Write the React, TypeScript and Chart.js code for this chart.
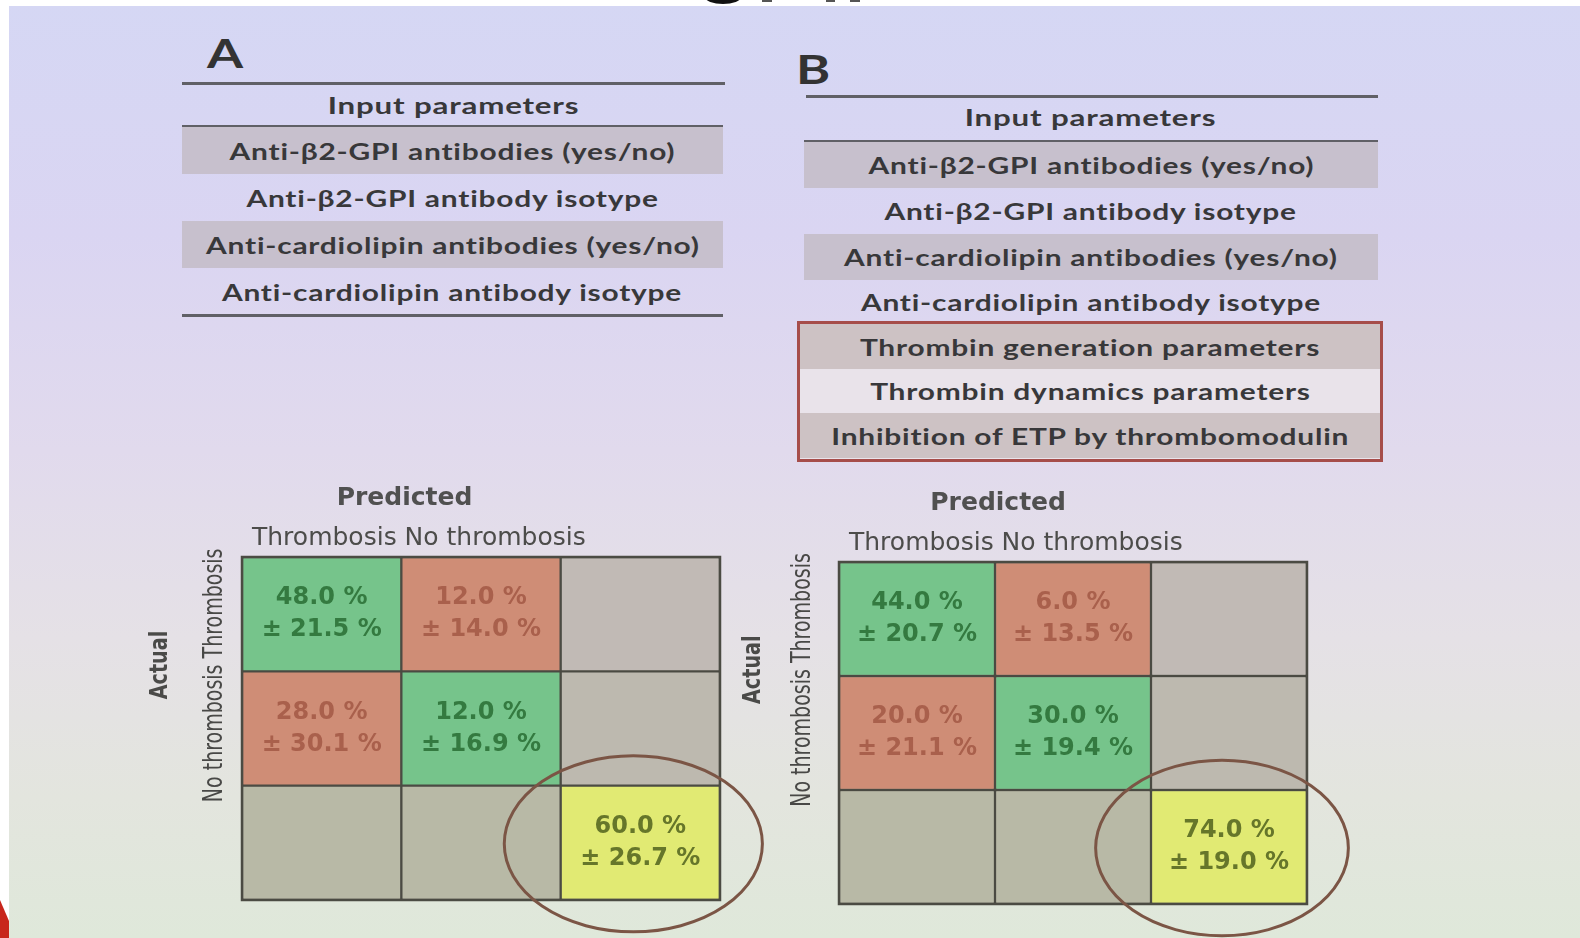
import React, { useEffect, useRef } from 'react';
import { Chart, registerables } from 'chart.js';

Chart.register(...registerables);

// Class names used on both axes of the confusion matrices
const predictedClasses = ['Thrombosis', 'No thrombosis'];
const actualClasses = ['Thrombosis', 'No thrombosis'];

// Model inputs
const baseInputs = [
  'Anti-β2-GPI antibodies (yes/no)',
  'Anti-β2-GPI antibody isotype',
  'Anti-cardiolipin antibodies (yes/no)',
  'Anti-cardiolipin antibody isotype',
];
const thrombinInputs = [
  'Thrombin generation parameters',
  'Thrombin dynamics parameters',
  'Inhibition of ETP by thrombomodulin',
];

// Model A: mean and standard deviation (%) per cell, row = actual, column = predicted
const meanA: (number | null)[][] = [
  [48.0, 12.0, null],
  [28.0, 12.0, null],
  [null, null, 60.0],
];
const sdA: (number | null)[][] = [
  [21.5, 14.0, null],
  [30.1, 16.9, null],
  [null, null, 26.7],
];

// Model B
const meanB: (number | null)[][] = [
  [44.0, 6.0, null],
  [20.0, 30.0, null],
  [null, null, 74.0],
];
const sdB: (number | null)[][] = [
  [20.7, 13.5, null],
  [21.1, 19.4, null],
  [null, null, 19.0],
];

const GRID = '#4b4b43';
const EMPTY_BY_ROW = ['#c1bab5', '#bdb9af', '#b8b9a6'];

function cellKind(r: number, c: number) {
  if (r === 2 && c === 2) return 'total';
  if (r === 2 || c === 2) return 'empty';
  return r === c ? 'hit' : 'miss';
}

function cellColor(r: number, c: number) {
  const k = cellKind(r, c);
  if (k === 'hit') return '#76c48b';
  if (k === 'miss') return '#cf8d76';
  if (k === 'total') return '#e1ea73';
  return EMPTY_BY_ROW[r];
}

function textColor(r: number, c: number) {
  const k = cellKind(r, c);
  if (k === 'hit') return '#347a40';
  if (k === 'miss') return '#a9604c';
  return '#66762a';
}

const matrixDecor = {
  id: 'matrixDecor',
  afterDatasetsDraw(chart: any, _args: any, opts: any) {
    const { ctx, chartArea: a } = chart;
    const w = a.right - a.left;
    const h = a.bottom - a.top;

    ctx.save();
    // outer frame
    ctx.strokeStyle = GRID;
    ctx.lineWidth = 2.5;
    ctx.strokeRect(a.left, a.top, w, h);

    // cell values
    ctx.textAlign = 'center';
    ctx.textBaseline = 'middle';
    ctx.font = 'bold 24px "DejaVu Sans"';
    opts.mean.forEach((row: (number | null)[], r: number) => {
      row.forEach((m, c) => {
        if (m == null) return;
        const bar = chart.getDatasetMeta(r).data[c];
        const cy = (bar.y + bar.base) / 2;
        ctx.fillStyle = textColor(r, c);
        ctx.fillText(`${m.toFixed(1)} %`, bar.x, cy - 16);
        ctx.fillText(`± ${opts.sd[r][c].toFixed(1)} %`, bar.x, cy + 16);
      });
    });

    // highlight ring around the overall accuracy cell
    const tot = chart.getDatasetMeta(2).data[2];
    const bw = tot.width;
    const bh = Math.abs(tot.base - tot.y);
    ctx.beginPath();
    ctx.ellipse(tot.x - 7, (tot.y + tot.base) / 2 + 1, bw * 0.81, bh * 0.77, 0, 0, Math.PI * 2);
    ctx.strokeStyle = '#7b5545';
    ctx.lineWidth = 3;
    ctx.stroke();

    // axis titles
    ctx.fillStyle = '#505050';
    ctx.font = 'bold 25px "DejaVu Sans"';
    ctx.fillText('Predicted', a.left + w * 0.34, a.top - 59);

    ctx.textAlign = 'left';
    ctx.font = '25px "DejaVu Sans"';
    ctx.fillStyle = '#4c4c4a';
    ctx.fillText(predictedClasses.join(' '), a.left + 10, a.top - 19);

    // rotated actual-class labels
    ctx.save();
    ctx.translate(a.left + opts.rowLabelDx, a.top + h * 0.345);
    ctx.rotate(-Math.PI / 2);
    ctx.scale(0.76, 1.05);
    ctx.textAlign = 'center';
    ctx.fillStyle = '#484846';
    ctx.fillText(`${actualClasses[1]} ${actualClasses[0]}`, 0, 0);
    ctx.restore();

    ctx.save();
    ctx.translate(a.left + opts.actualDx, a.top + h * 0.315);
    ctx.rotate(-Math.PI / 2);
    ctx.scale(0.8, 1);
    ctx.textAlign = 'center';
    ctx.font = 'bold 24px "DejaVu Sans"';
    ctx.fillStyle = '#4a4a48';
    ctx.fillText('Actual', 0, 0);
    ctx.restore();

    ctx.restore();
  },
};

type MatrixProps = {
  mean: (number | null)[][];
  sd: (number | null)[][];
  left: number;
  top: number;
  width: number;
  height: number;
  padding: { left: number; top: number; right: number; bottom: number };
  rowLabelDx: number;
  actualDx: number;
};

function ConfusionMatrix(p: MatrixProps) {
  const ref = useRef<HTMLCanvasElement>(null);
  useEffect(() => {
    const chart = new Chart(ref.current as HTMLCanvasElement, {
      type: 'bar',
      data: {
        labels: [...predictedClasses, ''],
        datasets: [0, 1, 2].map((r) => ({
          label: r < 2 ? actualClasses[r] : '',
          data: [0, 1, 2].map(() => [2 - r, 3 - r]),
          backgroundColor: [0, 1, 2].map((c) => cellColor(r, c)),
          borderColor: GRID,
          borderWidth: 1.5,
          borderSkipped: false,
          grouped: false,
          barPercentage: 1,
          categoryPercentage: 1,
        })),
      } as any,
      options: {
        responsive: false,
        animation: false,
        events: [],
        layout: { padding: p.padding },
        scales: {
          x: { display: false },
          y: { display: false, min: 0, max: 3 },
        },
        plugins: {
          legend: { display: false },
          tooltip: { enabled: false },
          matrixDecor: { mean: p.mean, sd: p.sd, rowLabelDx: p.rowLabelDx, actualDx: p.actualDx },
        } as any,
      },
      plugins: [matrixDecor],
    });
    return () => chart.destroy();
  }, []);
  return (
    <canvas
      ref={ref}
      width={p.width}
      height={p.height}
      style={{ position: 'absolute', left: p.left, top: p.top, width: p.width, height: p.height }}
    />
  );
}

const rowText: React.CSSProperties = {
  position: 'absolute',
  display: 'flex',
  alignItems: 'center',
  justifyContent: 'center',
  fontFamily: 'Lato, "Open Sans", sans-serif',
  fontWeight: 700,
  fontSize: 23,
  color: '#38383a',
  whiteSpace: 'nowrap',
};

const stretched: React.CSSProperties = {
  display: 'inline-block',
  transform: 'scaleX(1.3)',
  letterSpacing: '0.6px',
};

function Row(props: { text: string; left: number; top: number; width: number; height: number; bg?: string; stretch?: number }) {
  return (
    <div
      style={{
        ...rowText,
        left: props.left,
        top: props.top,
        width: props.width,
        height: props.height,
        background: props.bg || 'transparent',
      }}
    >
      <span style={{ ...stretched, transform: `scaleX(${props.stretch || 1.3})` }}>{props.text}</span>
    </div>
  );
}

function Rule(props: { left: number; top: number; width: number }) {
  return (
    <div
      style={{
        position: 'absolute',
        left: props.left,
        top: props.top,
        width: props.width,
        height: 3,
        background: '#606066',
      }}
    />
  );
}

function PanelLetter(props: { text: string; left: number; top: number }) {
  return (
    <div style={{ ...rowText, left: props.left, top: props.top, fontSize: 40, color: '#333', justifyContent: 'flex-start' }}>
      <span style={{ display: 'inline-block', transform: 'scaleX(1.3)', transformOrigin: 'left center' }}>{props.text}</span>
    </div>
  );
}

const SHADE = '#c7c0cd';
const SHADE_RED = '#cdc2c4';

export default function App() {
  const aTops = [127, 174, 221, 268];
  const bTops = [142, 188, 234, 279];
  const boxTops = [324, 368, 413];
  return (
    <div
      style={{
        position: 'fixed',
        left: 0,
        top: 0,
        width: 1580,
        height: 938,
        overflow: 'hidden',
        background:
          'linear-gradient(180deg, #d5d7f4 0%, #dad5f2 25%, #e1daed 48%, #e5e1e6 68%, #e3e5de 85%, #dfe8da 100%)',
      }}
    >
      {/* photo frame edges */}
      <div style={{ position: 'absolute', left: 0, top: 0, width: 1580, height: 6, background: '#ffffff' }} />
      <div style={{ position: 'absolute', left: 0, top: 0, width: 9, height: 938, background: '#ffffff' }} />
      <div
        style={{
          position: 'absolute',
          left: 0,
          top: 900,
          width: 9,
          height: 38,
          background: '#c8261c',
          clipPath: 'polygon(0 0, 100% 55%, 100% 100%, 0 100%)',
        }}
      />
      <div style={{ position: 'absolute', left: 705, top: -10, width: 36, height: 14, borderRadius: '50%', background: '#111' }} />
      <div style={{ position: 'absolute', left: 762, top: 0, width: 10, height: 2, background: '#555' }} />
      <div style={{ position: 'absolute', left: 826, top: 0, width: 9, height: 2, background: '#555' }} />
      <div style={{ position: 'absolute', left: 850, top: 0, width: 10, height: 2, background: '#555' }} />

      {/* Panel A */}
      <PanelLetter text="A" left={207} top={29} />
      <Rule left={182} top={82} width={543} />
      <Row text="Input parameters" left={182} top={86} width={543} height={38} stretch={1.36} />
      <Rule left={182} top={125} width={541} />
      {baseInputs.map((t, i) => (
        <Row key={t} text={t} left={182} top={aTops[i]} width={541} height={47} bg={i % 2 === 0 ? SHADE : undefined} />
      ))}
      <Rule left={182} top={314} width={541} />

      {/* Panel B */}
      <PanelLetter text="B" left={796} top={45} />
      <Rule left={806} top={95} width={572} />
      <Row text="Input parameters" left={804} top={98} width={574} height={38} stretch={1.36} />
      <Rule left={804} top={140} width={574} />
      {baseInputs.map((t, i) => (
        <Row key={t} text={t} left={804} top={bTops[i]} width={574} height={46} bg={i % 2 === 0 ? SHADE : undefined} />
      ))}
      <div
        style={{
          position: 'absolute',
          left: 797,
          top: 321,
          width: 580,
          height: 135,
          border: '3px solid #a64d4a',
          background: '#e9e3ea',
        }}
      />
      {thrombinInputs.map((t, i) => (
        <Row key={t} text={t} left={800} top={boxTops[i]} width={580} height={45} bg={i % 2 === 0 ? SHADE_RED : undefined} />
      ))}

      <ConfusionMatrix
        mean={meanA}
        sd={sdA}
        left={120}
        top={470}
        width={680}
        height={468}
        padding={{ left: 122, top: 87, right: 80, bottom: 38 }}
        rowLabelDx={-27}
        actualDx={-81}
      />
      <ConfusionMatrix
        mean={meanB}
        sd={sdB}
        left={715}
        top={470}
        width={700}
        height={468}
        padding={{ left: 124, top: 92, right: 108, bottom: 34 }}
        rowLabelDx={-36}
        actualDx={-85}
      />
    </div>
  );
}
